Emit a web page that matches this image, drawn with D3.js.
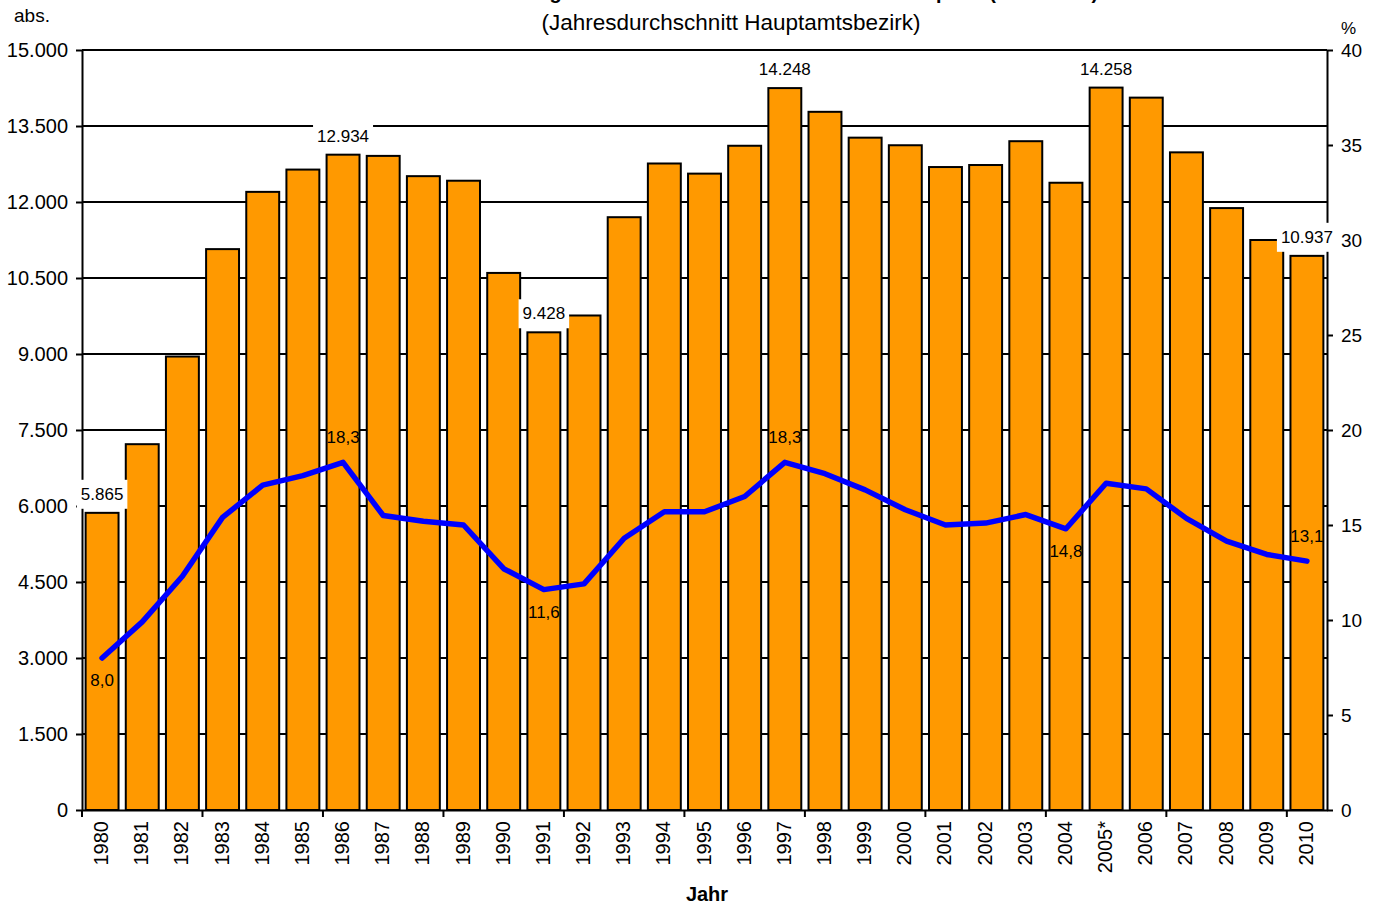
<!DOCTYPE html>
<html>
<head>
<meta charset="utf-8">
<script src="https://cdn.jsdelivr.net/npm/d3@7"></script>
<style>
body { margin: 0; background: #fff; }
svg { display: block; font-family: "Liberation Sans", Arial, sans-serif; }
</style>
</head>
<body>
<svg id="chart"></svg>
<script>
// values
let years = ['1980', '1981', '1982', '1983', '1984', '1985', '1986', '1987', '1988', '1989',
    '1990', '1991', '1992', '1993', '1994', '1995', '1996', '1997', '1998', '1999',
    '2000', '2001', '2002', '2003', '2004', '2005*', '2006', '2007', '2008', '2009', '2010']

// Arbeitslose absolut (Balken, linke Achse)
let persons = [5865, 7220, 8950, 11070, 12200, 12640, 12934, 12910, 12510, 12420,
    10600, 9428, 9760, 11700, 12760, 12560, 13110, 14248, 13780, 13270,
    13120, 12690, 12730, 13200, 12380, 14258, 14060, 12980, 11880, 11250, 10937]

// Arbeitslosenquote in % (Linie, rechte Achse)
let rates = [8.0, 9.9, 12.3, 15.4, 17.1, 17.6, 18.3, 15.5, 15.2, 15.0,
    12.7, 11.6, 11.9, 14.3, 15.7, 15.7, 16.5, 18.3, 17.7, 16.85,
    15.8, 15.0, 15.1, 15.55, 14.8, 17.2, 16.9, 15.35, 14.15, 13.45, 13.1]

// which points carry a data label
let personLabelYears = ['1980', '1986', '1991', '1997', '2005*', '2010']
let rateLabelYears = ['1980', '1986', '1991', '1997', '2004', '2010']
let rateLabelSide = ['below', 'above', 'below', 'above', 'below', 'above']

// axis ticks
let leftTicks = [0, 1500, 3000, 4500, 6000, 7500, 9000, 10500, 12000, 13500, 15000]
let rightTicks = [0, 5, 10, 15, 20, 25, 30, 35, 40]

let title = 'Entwicklung der Arbeitslosen und der Arbeitslosenquote (1980-2010)'
let subtitle = '(Jahresdurchschnitt Hauptamtsbezirk)'

// canvas
let width = 1382
let height = 904
let plotLeft = 82
let plotRight = 1327
let plotTop = 50
let plotBottom = 810

let de = d3.formatLocale({ decimal: ',', thousands: '.', grouping: [3], currency: ['', ' €'] })
let fmtInt = de.format(',')
let fmtRate = de.format(',.1f')

let svg = d3.select('#chart')
    .attr('width', width)
    .attr('height', height)

// scales
let xScale = d3.scaleBand()
    .domain(years)
    .range([plotLeft, plotRight])

let barWidth = xScale.bandwidth() * 0.82
let center = (year) => xScale(year) + xScale.bandwidth() / 2

let yScale = d3.scaleLinear()
    .domain([0, 15000])
    .range([plotBottom, plotTop])

let yRate = d3.scaleLinear()
    .domain([0, 40])
    .range([plotBottom, plotTop])

// gridlines
svg.append('g')
    .selectAll('line')
    .data(leftTicks.filter(d => d > 0))
    .enter()
    .append('line')
    .attr('x1', plotLeft)
    .attr('x2', plotRight)
    .attr('y1', d => yScale(d))
    .attr('y2', d => yScale(d))
    .attr('stroke', '#000')
    .attr('stroke-width', 2)

// axes
let styleAxis = (g) => {
    g.select('.domain').attr('stroke', '#000').attr('stroke-width', 2)
    g.selectAll('.tick line').attr('stroke', '#000').attr('stroke-width', 2)
    g.selectAll('.tick text').attr('fill', '#000')
}

svg.append('g')
    .attr('transform', 'translate(' + plotLeft + ',0)')
    .call(d3.axisLeft(yScale).tickValues(leftTicks).tickFormat(fmtInt)
        .tickSize(6).tickSizeOuter(0).tickPadding(8))
    .attr('font-size', 20)
    .attr('font-family', null)
    .call(styleAxis)

svg.append('g')
    .attr('transform', 'translate(' + plotRight + ',0)')
    .call(d3.axisRight(yRate).tickValues(rightTicks)
        .tickSize(6).tickSizeOuter(0).tickPadding(8))
    .attr('font-size', 19)
    .attr('font-family', null)
    .call(styleAxis)

let xAxis = svg.append('g')
    .attr('transform', 'translate(0,' + plotBottom + ')')
    .call(d3.axisBottom(xScale).tickSize(0).tickSizeOuter(0))
    .attr('font-size', 20)
    .attr('font-family', null)
    .call(styleAxis)

xAxis.selectAll('.tick text')
    .attr('transform', 'rotate(-90)')
    .attr('text-anchor', 'end')
    .attr('x', -11)
    .attr('y', -1)
    .attr('dy', '0.35em')

// tick marks on every third category boundary
xAxis.selectAll('.cat-tick')
    .data(years.filter((d, i) => i % 3 === 0))
    .enter()
    .append('line')
    .attr('class', 'cat-tick')
    .attr('x1', d => xScale(d))
    .attr('x2', d => xScale(d))
    .attr('y1', 0)
    .attr('y2', 7)
    .attr('stroke', '#000')
    .attr('stroke-width', 2)

// bars
svg.append('g')
    .selectAll('rect')
    .data(years)
    .enter()
    .append('rect')
    .attr('x', d => center(d) - barWidth / 2)
    .attr('width', barWidth)
    .attr('y', (d, i) => yScale(persons[i]))
    .attr('height', (d, i) => plotBottom - yScale(persons[i]))
    .attr('fill', '#ff9900')
    .attr('stroke', '#000')
    .attr('stroke-width', 2)

// rate line
let line = d3.line()
    .x(d => center(d))
    .y((d, i) => yRate(rates[i]))

svg.append('path')
    .datum(years)
    .attr('d', line)
    .attr('fill', 'none')
    .attr('stroke', '#0000ff')
    .attr('stroke-width', 5.5)
    .attr('stroke-linejoin', 'round')
    .attr('stroke-linecap', 'round')

// bar labels with white box
let barLabels = svg.append('g')
    .attr('font-size', 17)

personLabelYears.forEach((year) => {
    let i = years.indexOf(year)
    let g = barLabels.append('g')
    let t = g.append('text')
        .attr('x', center(year))
        .attr('y', yScale(persons[i]) - 19)
        .attr('dy', '0.35em')
        .attr('text-anchor', 'middle')
        .text(fmtInt(persons[i]))
    let box = t.node().getBBox()
    g.insert('rect', 'text')
        .attr('x', box.x - 4)
        .attr('y', box.y - 5)
        .attr('width', box.width + 8)
        .attr('height', box.height + 10)
        .attr('fill', '#fff')
})

// rate labels
svg.append('g')
    .attr('font-size', 17)
    .selectAll('text')
    .data(rateLabelYears)
    .enter()
    .append('text')
    .attr('x', d => center(d))
    .attr('y', (d, k) => yRate(rates[years.indexOf(d)]) + (rateLabelSide[k] === 'above' ? -25 : 22))
    .attr('dy', '0.35em')
    .attr('text-anchor', 'middle')
    .text(d => fmtRate(rates[years.indexOf(d)]))

// titles
svg.append('text')
    .attr('x', 771)
    .attr('y', -1)
    .attr('text-anchor', 'middle')
    .attr('font-size', 20)
    .attr('font-weight', 'bold')
    .text(title)

svg.append('text')
    .attr('x', 731)
    .attr('y', 30)
    .attr('text-anchor', 'middle')
    .attr('font-size', 22.5)
    .text(subtitle)

svg.append('text')
    .attr('x', 14)
    .attr('y', 22)
    .attr('font-size', 19)
    .text('abs.')

svg.append('text')
    .attr('x', 1341)
    .attr('y', 34)
    .attr('font-size', 17)
    .text('%')

svg.append('text')
    .attr('x', 707)
    .attr('y', 901)
    .attr('text-anchor', 'middle')
    .attr('font-size', 20)
    .attr('font-weight', 'bold')
    .text('Jahr')
</script>
</body>
</html>
